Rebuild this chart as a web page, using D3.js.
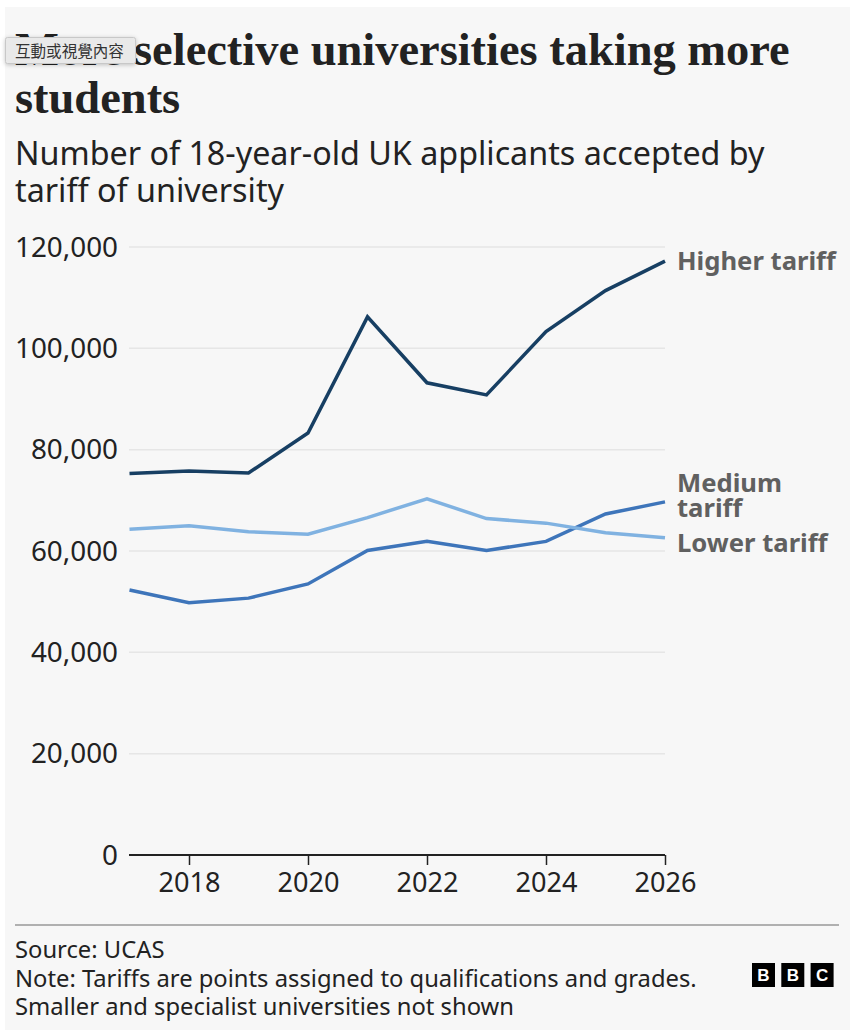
<!DOCTYPE html>
<html><head><meta charset="utf-8">
<script src="https://cdn.jsdelivr.net/npm/d3@7"></script>
<style>body{margin:0;background:#fff;overflow:hidden}</style>
</head><body>
<svg id="c" width="850" height="1030"></svg>
<script>
const years  = [2017,2018,2019,2020,2021,2022,2023,2024,2025,2026];
const higher = [75300,75800,75400,83300,106200,93200,90800,103300,111400,117200];
const medium = [52300,49800,50700,53500,60100,61900,60100,61900,67300,69700];
const lower  = [64300,65000,63800,63300,66600,70300,66400,65500,63600,62600];
const seriesNames = ["Higher tariff","Medium tariff","Lower tariff"];
const seriesLabelLines = [["Higher tariff"],["Medium","tariff"],["Lower tariff"]];
const yTicks = [0,20000,40000,60000,80000,100000,120000];
const xTicks = [2018,2020,2022,2024,2026];
const titleLines = ["More selective universities taking more","students"];
const subtitleLines = ["Number of 18-year-old UK applicants accepted by","tariff of university"];
const footerLines = ["Source: UCAS","Note: Tariffs are points assigned to qualifications and grades.","Smaller and specialist universities not shown"];
const badgeText = "互動或視覺內容";

const colors = ["#173f63","#3e75ba","#80b2e1"];
const SANS = "'Noto Sans', 'Open Sans', sans-serif";
const SERIF = "'Liberation Serif', 'DejaVu Serif', serif";

const svg = d3.select("#c");
svg.append("rect").attr("x",5).attr("y",7).attr("width",845).attr("height",1023).attr("fill","#f7f7f7");

function fitGroup(sel, refNode, target){
  const w = refNode.getComputedTextLength();
  const fs = parseFloat(d3.select(refNode).attr("font-size"));
  sel.attr("font-size", fs*target/w);
}

// Title
const title = svg.append("g").selectAll("text").data(titleLines).join("text")
  .attr("x",15).attr("y",(d,i)=>65+i*48)
  .attr("font-family",SERIF).attr("font-weight","bold").attr("font-size",42)
  .attr("fill","#222").text(d=>d);
fitGroup(title, title.nodes()[0], 775);

// Subtitle
const sub = svg.append("g").selectAll("text").data(subtitleLines).join("text")
  .attr("x",15).attr("y",(d,i)=>165+i*37)
  .attr("font-family",SANS).attr("font-size",28)
  .attr("fill","#222").text(d=>d);
fitGroup(sub, sub.nodes()[0], 750);

// Scales
const x = d3.scaleLinear().domain([2017,2026]).range([129.5,665]);
const y = d3.scaleLinear().domain([0,120000]).range([855,247]);

// Gridlines
svg.append("g").selectAll("line").data(yTicks.filter(d=>d>0)).join("line")
  .attr("x1",129).attr("x2",665).attr("y1",d=>y(d)).attr("y2",d=>y(d))
  .attr("stroke","#e6e6e6").attr("stroke-width",1.5);

// Y labels
const yl = svg.append("g").selectAll("text").data(yTicks).join("text")
  .attr("x",118).attr("y",d=>y(d)).attr("dy","0.35em").attr("text-anchor","end")
  .attr("font-family",SANS).attr("font-size",26).attr("fill","#222")
  .text(d=>d3.format(",")(d));
fitGroup(yl, yl.nodes()[6], 103);

// X axis
const xAxis = svg.append("g").attr("transform","translate(0,855)")
  .call(d3.axisBottom(x).tickValues(xTicks).tickFormat(d3.format("d")).tickSize(10).tickPadding(8));
xAxis.select(".domain").attr("stroke","#222").attr("stroke-width",2).attr("d","M129,0H665");
xAxis.selectAll(".tick line").attr("stroke","#222").attr("stroke-width",1.5);
const xl = xAxis.selectAll(".tick text").attr("font-family",SANS).attr("font-size",26).attr("fill","#222");
fitGroup(xl, xl.nodes()[0], 62);

// Lines
const data = [higher, medium, lower];
const line = d3.line().x((d,i)=>x(years[i])).y(d=>y(d));
svg.append("g").selectAll("path").data(data).join("path")
  .attr("d",line).attr("fill","none")
  .attr("stroke",(d,i)=>colors[i]).attr("stroke-width",3.5)
  .attr("stroke-linejoin","miter");

// Series labels
const labelNudge = [0,-6,5];
const lab = svg.append("g");
const labTexts = [];
data.forEach((vals,i)=>{
  const lines = seriesLabelLines[i];
  const ly = y(vals[vals.length-1]) + labelNudge[i];
  const n = lines.length;
  lines.forEach((t,j)=>{
    const tx = lab.append("text").attr("x",677)
      .attr("y", ly + (j-(n-1)/2)*25).attr("dy","0.35em")
      .attr("font-family",SANS).attr("font-weight","bold").attr("font-size",25)
      .attr("fill","#606060").text(t);
    labTexts.push(tx.node());
  });
});
fitGroup(lab.selectAll("text"), labTexts[0], 159);

// Footer
svg.append("line").attr("x1",15).attr("x2",839).attr("y1",925).attr("y2",925)
  .attr("stroke","#999").attr("stroke-width",1.5);
const ft = svg.append("g").selectAll("text").data(footerLines).join("text")
  .attr("x",15).attr("y",(d,i)=>958+i*28.5)
  .attr("font-family",SANS).attr("font-size",22).attr("fill","#222").text(d=>d);
fitGroup(ft, ft.nodes()[1], 682);

// BBC logo
const bbc = svg.append("g");
["B","B","C"].forEach((ch,i)=>{
  bbc.append("rect").attr("x",752+i*29.3).attr("y",963).attr("width",23).attr("height",24).attr("fill","#000");
  bbc.append("text").attr("x",752+i*29.3+11.5).attr("y",975).attr("dy","0.36em")
    .attr("text-anchor","middle").attr("font-family","'Liberation Sans', sans-serif")
    .attr("font-weight","bold").attr("font-size",17).attr("fill","#fff").text(ch);
});

// Badge overlay
const badge = svg.append("g");
badge.append("rect").attr("x",5.5).attr("y",37.5).attr("width",130).attr("height",26).attr("rx",2)
  .attr("fill","#e9e9e9").attr("stroke","#c8c8c8").attr("stroke-width",1)
  .style("filter","drop-shadow(0px 1px 2px rgba(0,0,0,0.22))");
const bt = badge.append("text").attr("x",15).attr("y",51).attr("dy","0.36em")
  .attr("font-family","'Noto Sans CJK TC','Noto Sans CJK SC',sans-serif").attr("font-size",15.5)
  .attr("fill","#333").text(badgeText);
fitGroup(bt, bt.node(), 109);
</script>
</body></html>
